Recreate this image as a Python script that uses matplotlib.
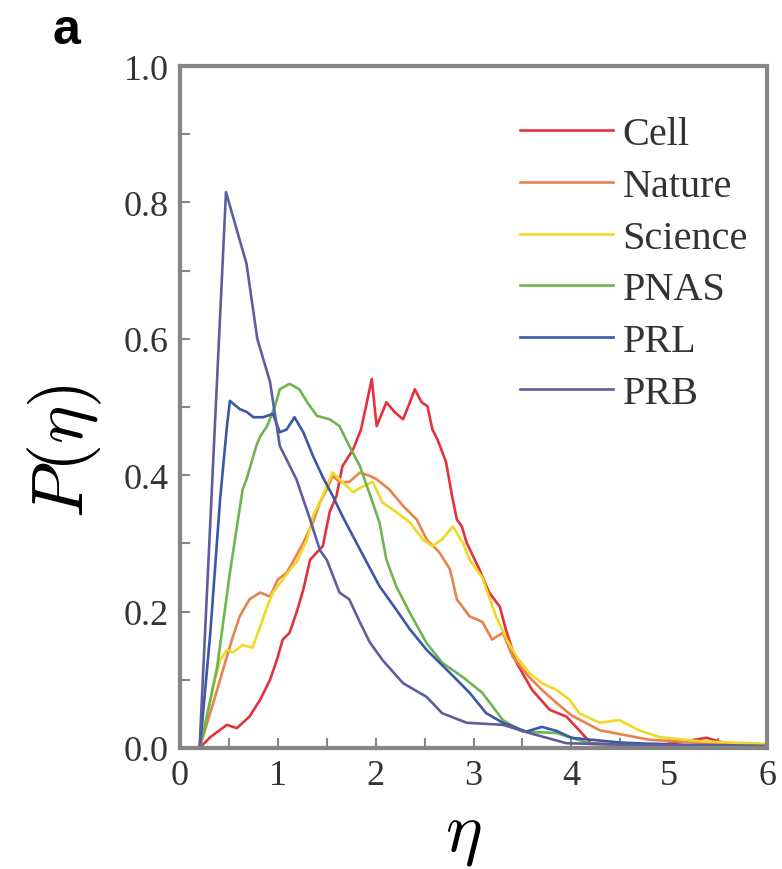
import matplotlib
matplotlib.use("Agg")
import matplotlib.pyplot as plt
from matplotlib.ticker import MultipleLocator

# ---------------- data ----------------
labels = ["Cell", "Nature", "Science", "PNAS", "PRL", "PRB"]
colors = ["#e2333c", "#e8834e", "#f2d826", "#6cb650", "#3a58a6", "#5e5e9e"]

cell_x = [0.2, 0.31, 0.48, 0.58, 0.71, 0.82, 0.92, 0.99, 1.05, 1.12, 1.19, 1.26, 1.33, 1.4,
          1.46, 1.53, 1.6, 1.66, 1.77, 1.85, 1.91, 1.96, 2.01, 2.11, 2.19, 2.28, 2.35, 2.4,
          2.47, 2.53, 2.58, 2.63, 2.72, 2.78, 2.83, 2.88, 2.93, 3.06, 3.16, 3.27, 3.33, 3.44,
          3.6, 3.78, 3.95, 4.08, 4.2, 4.5, 5.0, 5.38, 5.6, 6.0]
cell_y = [0.0, 0.016, 0.034, 0.029, 0.046, 0.071, 0.1, 0.129, 0.159, 0.169, 0.198, 0.232,
          0.276, 0.287, 0.296, 0.346, 0.37, 0.413, 0.438, 0.467, 0.507, 0.541, 0.472, 0.507,
          0.493, 0.482, 0.507, 0.526, 0.507, 0.501, 0.467, 0.453, 0.419, 0.37, 0.335, 0.325,
          0.301, 0.262, 0.228, 0.207, 0.174, 0.125, 0.085, 0.056, 0.046, 0.026, 0.007, 0.005,
          0.006, 0.015, 0.006, 0.003]

nature_x = [0.2, 0.34, 0.44, 0.54, 0.61, 0.71, 0.82, 0.92, 1.0, 1.09, 1.15, 1.26, 1.36, 1.43,
            1.5, 1.56, 1.63, 1.73, 1.84, 1.94, 2.01, 2.14, 2.28, 2.42, 2.52, 2.65, 2.76, 2.83,
            2.96, 3.09, 3.19, 3.3, 3.4, 3.57, 3.7, 3.85, 4.0, 4.29, 4.8, 5.3, 6.0]
nature_y = [0.0, 0.066, 0.115, 0.163, 0.193, 0.218, 0.228, 0.222, 0.247, 0.257, 0.272, 0.301,
            0.331, 0.36, 0.379, 0.399, 0.39, 0.39, 0.404, 0.399, 0.394, 0.379, 0.355, 0.335,
            0.306, 0.287, 0.262, 0.218, 0.193, 0.185, 0.159, 0.169, 0.134, 0.104, 0.085, 0.066,
            0.048, 0.026, 0.012, 0.008, 0.004]

science_x = [0.2, 0.34, 0.41, 0.48, 0.54, 0.64, 0.74, 0.82, 0.89, 0.95, 1.05, 1.15, 1.19, 1.3,
             1.36, 1.46, 1.56, 1.66, 1.77, 1.87, 1.97, 2.07, 2.21, 2.35, 2.48, 2.58, 2.68, 2.79,
             2.89, 2.96, 3.09, 3.23, 3.34, 3.44, 3.57, 3.7, 3.85, 3.98, 4.08, 4.29, 4.49, 4.69,
             4.9, 5.3, 6.0]
science_y = [0.0, 0.09, 0.129, 0.144, 0.14, 0.151, 0.147, 0.178, 0.207, 0.228, 0.247, 0.266,
             0.272, 0.306, 0.34, 0.37, 0.404, 0.39, 0.375, 0.384, 0.39, 0.36, 0.346, 0.331,
             0.306, 0.296, 0.306, 0.325, 0.301, 0.276, 0.25, 0.193, 0.159, 0.134, 0.11, 0.095,
             0.085, 0.071, 0.051, 0.037, 0.041, 0.026, 0.016, 0.01, 0.006]

pnas_x = [0.2, 0.24, 0.38, 0.51, 0.64, 0.68, 0.78, 0.82, 0.89, 0.97, 1.02, 1.12, 1.22, 1.3,
          1.4, 1.53, 1.63, 1.73, 1.84, 1.94, 2.04, 2.11, 2.21, 2.35, 2.52, 2.68, 2.89, 3.09,
          3.3, 3.5, 3.85, 4.2, 4.6, 5.0, 5.5, 6.0]
pnas_y = [0.0, 0.022, 0.119, 0.257, 0.379, 0.394, 0.443, 0.457, 0.472, 0.501, 0.526, 0.534,
          0.526, 0.507, 0.487, 0.482, 0.472, 0.443, 0.413, 0.372, 0.33, 0.276, 0.237, 0.198,
          0.154, 0.125, 0.104, 0.081, 0.041, 0.024, 0.022, 0.006, 0.004, 0.003, 0.003, 0.002]

prl_x = [0.2, 0.22, 0.31, 0.41, 0.48, 0.51, 0.61, 0.68, 0.75, 0.85, 0.95, 1.02, 1.09, 1.17,
         1.26, 1.36, 1.46, 1.56, 1.66, 1.77, 1.91, 2.04, 2.21, 2.35, 2.52, 2.76, 2.96, 3.13,
         3.3, 3.54, 3.7, 3.85, 4.0, 4.5, 5.0, 5.5, 6.0]
prl_y = [0.0, 0.026, 0.169, 0.365, 0.472, 0.509, 0.497, 0.493, 0.485, 0.485, 0.49, 0.463,
         0.467, 0.485, 0.463, 0.428, 0.397, 0.37, 0.34, 0.31, 0.272, 0.237, 0.203, 0.174,
         0.144, 0.11, 0.081, 0.051, 0.037, 0.024, 0.031, 0.025, 0.015, 0.008, 0.005, 0.004,
         0.003]

prb_x = [0.2, 0.47, 0.58, 0.68, 0.79, 0.92, 1.02, 1.19, 1.33, 1.43, 1.5, 1.63, 1.73, 1.84,
         1.94, 2.07, 2.28, 2.52, 2.68, 2.93, 3.3, 3.57, 3.95, 4.5, 5.0, 5.5, 6.0]
prb_y = [0.0, 0.815, 0.76, 0.71, 0.60, 0.537, 0.443, 0.394, 0.335, 0.29, 0.276, 0.228, 0.218,
         0.184, 0.155, 0.129, 0.095, 0.075, 0.051, 0.037, 0.034, 0.022, 0.007, 0.005, 0.004,
         0.003, 0.002]

xs = [cell_x, nature_x, science_x, pnas_x, prl_x, prb_x]
ys = [cell_y, nature_y, science_y, pnas_y, prl_y, prb_y]

xticks = [0, 1, 2, 3, 4, 5, 6]
yticks = [0.0, 0.2, 0.4, 0.6, 0.8, 1.0]

# ---------------- figure ----------------
plt.rcParams["font.family"] = ["Liberation Serif", "DejaVu Serif"]
plt.rcParams["mathtext.fontset"] = "cm"

W, H = 782, 870
fig = plt.figure(figsize=(W / 100, H / 100), dpi=100)
ax = fig.add_axes([180 / W, 1 - 749 / H, (767 - 180) / W, (749 - 67) / H])

for x, y, c, lab in zip(xs, ys, colors, labels):
    ax.plot(x, y, color=c, lw=1.9, label=lab, solid_joinstyle="round")

ax.set_xlim(0, 6)
ax.set_ylim(0, 1.0)
ax.set_xticks(xticks)
ax.set_xticklabels([str(t) for t in xticks])
ax.set_yticks(yticks)
ax.set_yticklabels([f"{t:.1f}" for t in yticks])
ax.xaxis.set_minor_locator(MultipleLocator(0.5))
ax.yaxis.set_minor_locator(MultipleLocator(0.1))

spine_col = "#858585"
for s in ax.spines.values():
    s.set_color(spine_col)
    s.set_linewidth(3)

ax.tick_params(which="both", direction="in", color=spine_col, width=1.5,
               top=False, right=False, labelsize=26, labelcolor="#333333")
ax.tick_params(which="major", length=7, pad=8)
ax.tick_params(which="minor", length=7)

ax.set_xlabel(r"$\eta$", fontsize=50)
ax.xaxis.set_label_coords(0.482, -0.082)
ax.set_ylabel(r"$P(\eta)$", fontsize=52)
ax.yaxis.set_label_coords(-0.13, 0.437)

leg = ax.legend(loc="upper right", bbox_to_anchor=(0.995, 0.95), frameon=False,
                fontsize=29, handlelength=2.3, handletextpad=0.25, labelspacing=0.36,
                borderaxespad=0)
for t in leg.get_texts():
    t.set_color("#333333")

fig.text(53 / W, 1 - 8 / H, "a", fontsize=36, fontweight="bold",
         family="Liberation Sans", va="top", ha="left")

fig.savefig("out.png", dpi=100)
